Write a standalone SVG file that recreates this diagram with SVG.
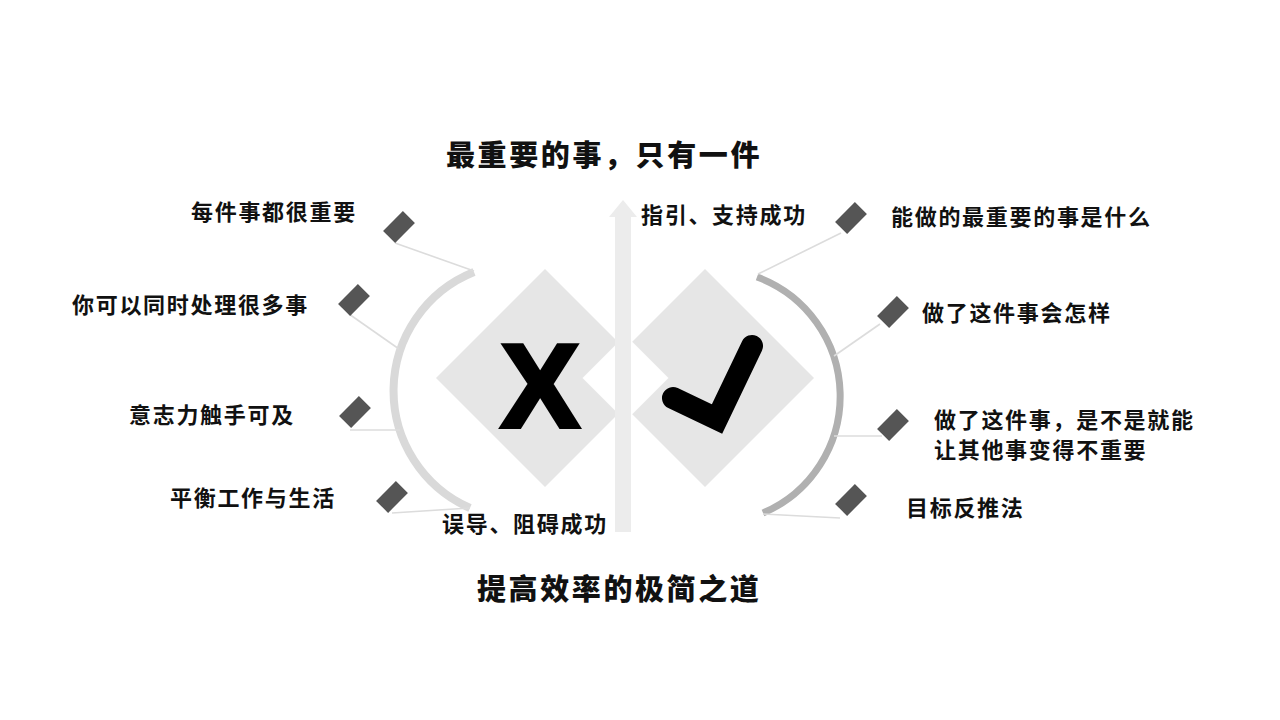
<svg xmlns="http://www.w3.org/2000/svg" width="1280" height="720" viewBox="0 0 1280 720">
<style>
.lbl{font-family:"Noto Sans CJK SC","Noto Sans",sans-serif;font-weight:700;font-size:22px;letter-spacing:1.7px;fill:#111}
.ttl{font-family:"Noto Sans CJK SC","Noto Sans",sans-serif;font-weight:900;font-size:29px;letter-spacing:2.6px;fill:#111}
.mk{fill:#555}
.ln{stroke:#dcdcdc;stroke-width:1.6;fill:none}
.dia{fill:#e6e6e6}
</style>
<rect width="1280" height="720" fill="#fff"/>
<g id="center">
  <polygon class="dia" points="545,269 654,378 545,487 436,378"/>
  <polygon class="dia" points="705,269 814,378 705,487 596,378"/>
  <polygon fill="#fff" points="625.5,335 668.5,378 625.5,421 582.5,378"/>
  <polygon fill="#ececec" points="623,200 637,217 631,217 631,532 615,532 615,217 609,217"/>
  <text x="540" y="427" text-anchor="middle" font-family="Liberation Sans,Arial,sans-serif" font-weight="700" font-size="118" fill="#000" stroke="#000" stroke-width="4">X</text>
  <polyline points="673,398 717,419 752,346" fill="none" stroke="#000" stroke-width="22" stroke-linejoin="miter" stroke-linecap="round"/>
</g>
<g id="connectors">
  <path d="M474 272 A128 128 0 0 0 470 508" fill="none" stroke="#d9d9d9" stroke-width="8"/>
  <path d="M757 277 A127 127 0 0 1 763 513" fill="none" stroke="#b0b0b0" stroke-width="7"/>
  <line class="ln" x1="395" y1="243" x2="474" y2="271"/>
  <line class="ln" x1="349" y1="314" x2="399" y2="349"/>
  <line class="ln" x1="350" y1="430" x2="400" y2="430"/>
  <line class="ln" x1="392" y1="513" x2="470" y2="508"/>
  <line class="ln" x1="841" y1="233" x2="758" y2="274"/>
  <line class="ln" x1="880" y1="324" x2="834" y2="356"/>
  <line class="ln" x1="882" y1="436" x2="834" y2="436"/>
  <line class="ln" x1="840" y1="518" x2="763" y2="514"/>
</g>
<g id="title-top"><text class="ttl" x="446" y="166">最重要的事，只有一件</text></g>
<g id="title-bottom"><text class="ttl" x="477" y="600">提高效率的极简之道</text></g>
<g id="arrow-labels">
  <text class="lbl" x="641" y="223">指引、支持成功</text>
  <text class="lbl" x="442" y="532">误导、阻碍成功</text>
</g>
<g id="n1"><rect class="mk" x="-14" y="-8.5" width="28" height="17" transform="translate(399,227) rotate(-45)"/><text class="lbl" x="191" y="220">每件事都很重要</text></g>
<g id="n2"><rect class="mk" x="-14" y="-8.5" width="28" height="17" transform="translate(354,300) rotate(-45)"/><text class="lbl" x="72" y="313">你可以同时处理很多事</text></g>
<g id="n3"><rect class="mk" x="-14" y="-8.5" width="28" height="17" transform="translate(355,412) rotate(-45)"/><text class="lbl" x="129" y="423">意志力触手可及</text></g>
<g id="n4"><rect class="mk" x="-14" y="-8.5" width="28" height="17" transform="translate(392,497) rotate(-45)"/><text class="lbl" x="170" y="506">平衡工作与生活</text></g>
<g id="n5"><rect class="mk" x="-14" y="-8.5" width="28" height="17" transform="translate(851,218) rotate(-45)"/><text class="lbl" x="891" y="225">能做的最重要的事是什么</text></g>
<g id="n6"><rect class="mk" x="-14" y="-8.5" width="28" height="17" transform="translate(893,312) rotate(-45)"/><text class="lbl" x="922" y="321">做了这件事会怎样</text></g>
<g id="n7"><rect class="mk" x="-14" y="-8.5" width="28" height="17" transform="translate(893,425) rotate(-45)"/><text class="lbl" x="934" y="428">做了这件事，是不是就能</text><text class="lbl" x="934" y="458">让其他事变得不重要</text></g>
<g id="n8"><rect class="mk" x="-14" y="-8.5" width="28" height="17" transform="translate(851,500) rotate(-45)"/><text class="lbl" x="906" y="516">目标反推法</text></g>
</svg>
